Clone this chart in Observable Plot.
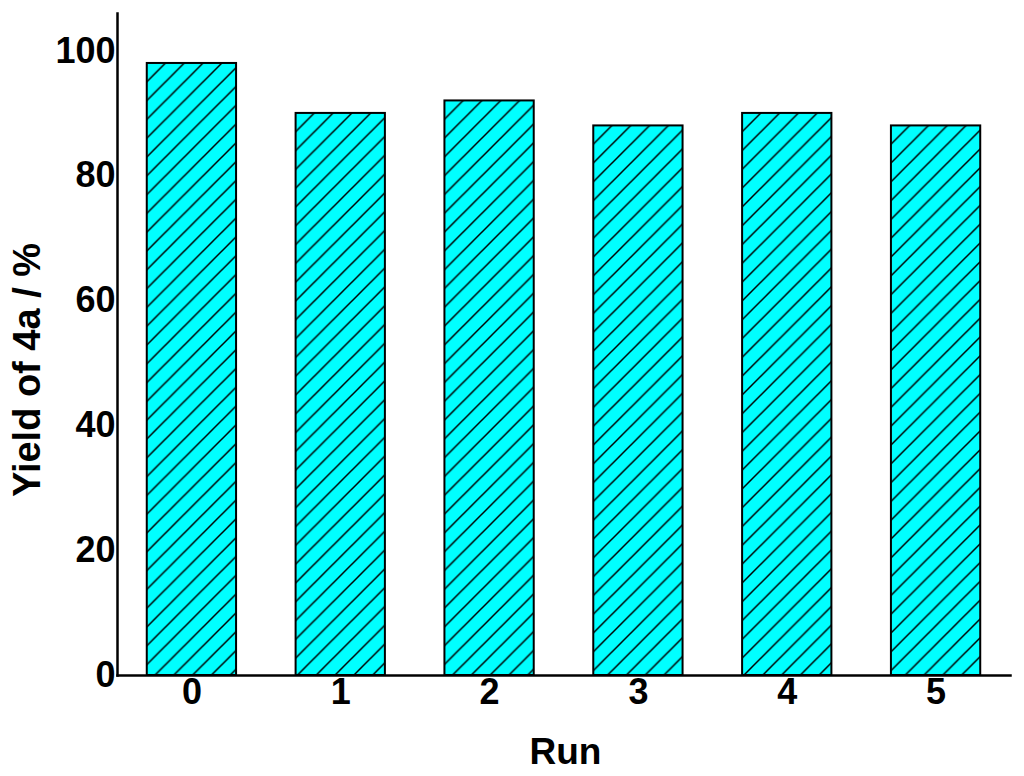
<!DOCTYPE html>
<html><head><meta charset="utf-8">
<script src="https://cdn.jsdelivr.net/npm/d3@7"></script>
<script src="https://cdn.jsdelivr.net/npm/@observablehq/plot@0.6"></script>
<style>body{margin:0;background:#fff}</style>
</head><body><div id="chart"></div>
<script>
const runs = ["0", "1", "2", "3", "4", "5"];
const yields = [98, 90, 92, 88, 90, 88];
const yTicks = [0, 20, 40, 60, 80, 100];
const xLabel = "Run";
const yLabel = "Yield of 4a / %";
const data = runs.map((r, i) => ({run: r, yield: yields[i]}));

const font = "'Liberation Sans', Arial, sans-serif";
const plot = Plot.plot({
  width: 1024, height: 776,
  marginLeft: 117, marginRight: 14, marginTop: 13, marginBottom: 101,
  style: {fontFamily: font, fontWeight: "bold", background: "white", color: "black"},
  x: {domain: runs, paddingInner: 0.4, paddingOuter: 0.2, round: false, label: null},
  y: {domain: [0, 106], label: null},
  marks: [
    Plot.barY(data, {x: "run", y: "yield", fill: "#00FFFF"}),
    Plot.barY(data, {x: "run", y: "yield", fill: "none", stroke: "black", strokeWidth: 2}),
    Plot.axisY({ticks: yTicks, tickSize: 0, tickPadding: 2, fontSize: 36, label: null}),
    Plot.axisX({tickSize: 0, tickPadding: 3, fontSize: 36, label: null}),
    Plot.frame({anchor: "left", strokeWidth: 2.5}),
    Plot.frame({anchor: "bottom", strokeWidth: 2.5}),
    Plot.text([xLabel], {frameAnchor: "bottom", textAnchor: "middle", lineAnchor: "top", dy: 62, dx: 1.5, fontSize: 37, fontWeight: "bold"}),
    Plot.text([yLabel], {frameAnchor: "left", textAnchor: "middle", lineAnchor: "middle", rotate: -90, dx: -89.5, dy: 25.5, fontSize: 38, fontWeight: "bold"})
  ]
});
document.getElementById("chart").appendChild(plot);

// per-bar hatch patterns anchored at each bar's top-left corner
const s = 18.8;
const svg = d3.select(plot);
const defs = svg.insert("defs", ":first-child");
const barGroups = svg.selectAll('g[aria-label="bar"]').nodes();
const outline = barGroups[barGroups.length - 1];
d3.select(outline).selectAll("rect").each(function(d, i) {
  const r = d3.select(this);
  const id = "hatch-" + i;
  const p = defs.append("pattern")
    .attr("id", id).attr("patternUnits", "userSpaceOnUse")
    .attr("x", r.attr("x")).attr("y", r.attr("y"))
    .attr("width", s).attr("height", s);
  p.append("rect").attr("width", s).attr("height", s).attr("fill", "#00FFFF");
  const segs = [[0, s, s, 0], [-1, 1, 1, -1], [s - 1, s + 1, s + 1, s - 1]];
  segs.forEach(([x1, y1, x2, y2]) => p.append("line")
    .attr("x1", x1).attr("y1", y1).attr("x2", x2).attr("y2", y2)
    .attr("stroke", "black").attr("stroke-width", 1.5));
  r.attr("fill", `url(#${id})`);
});
</script>
</body></html>
